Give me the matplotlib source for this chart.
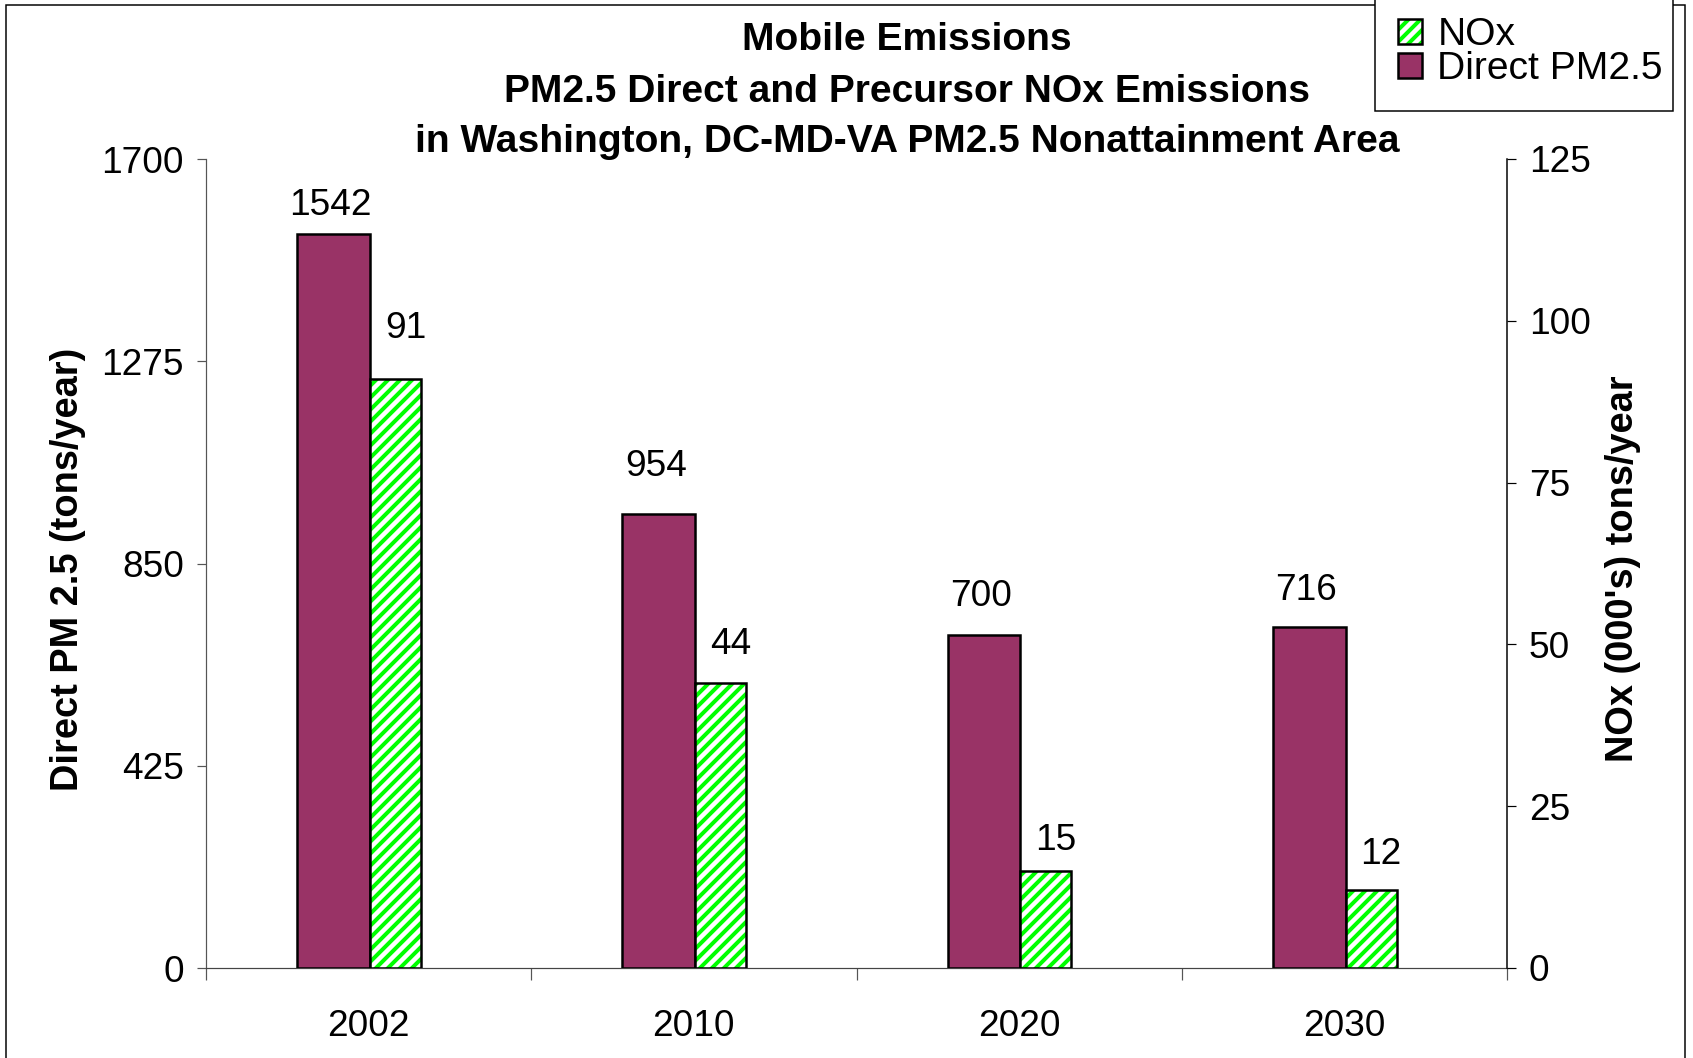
import numpy as np
import matplotlib
matplotlib.use('Agg')
import matplotlib.pyplot as plt
from matplotlib.patches import Rectangle
from matplotlib.legend_handler import HandlerTuple

# ---- data ----
years = ['2002', '2010', '2020', '2030']
pm25 = [1542, 954, 700, 716]          # Direct PM2.5, tons/year (left axis)
nox = [91, 44, 15, 12]                # NOx, 000's tons/year (right axis)
pm_ticks = [0, 425, 850, 1275, 1700]
nox_ticks = [0, 25, 50, 75, 100, 125]
title_lines = ['Mobile Emissions',
               'PM2.5 Direct and Precursor NOx Emissions',
               'in Washington, DC-MD-VA PM2.5 Nonattainment Area']

# ---- layout tweaks (label gaps above bars, in px) ----
pm_label_gap = [19, 38, 29, 27]
nox_label_gap = [41, 29, 21, 26]

PM_COLOR = '#993366'
GREEN = '#00FF00'
W, H = 1693, 1058
DPI = 72
NUM_FS = 37

plt.rcParams['font.family'] = ['Liberation Sans', 'DejaVu Sans']
plt.rcParams['hatch.linewidth'] = 4.0

fig = plt.figure(figsize=(W / DPI, H / DPI), dpi=DPI)
ax = fig.add_axes([206 / W, 1 - 968 / H, (1507 - 206) / W, (968 - 159) / H])
ax2 = ax.twinx()

x = np.arange(len(years))
pm_off, pm_w = -0.22, 0.224
nx_off, nx_w = 0.004, 0.157

pm_bars = ax.bar(x + pm_off, pm25, width=pm_w, align='edge', color=PM_COLOR,
                 edgecolor='black', linewidth=2.5, zorder=3)
nox_fill = ax2.bar(x + nx_off, nox, width=nx_w, align='edge', color='white',
                   edgecolor=GREEN, hatch='//', linewidth=0, zorder=3)
nox_edge = ax2.bar(x + nx_off, nox, width=nx_w, align='edge', fill=False,
                   edgecolor='black', linewidth=2.5, zorder=4)

for xi, v, g in zip(x, pm25, pm_label_gap):
    ax.annotate(str(v), xy=(xi + pm_off + pm_w / 2, v), xytext=(-3, g),
                textcoords='offset points', ha='center', va='baseline', fontsize=NUM_FS)
for xi, v, g in zip(x, nox, nox_label_gap):
    ax2.annotate(str(v), xy=(xi + nx_off + nx_w / 2, v), xytext=(10, g),
                 textcoords='offset points', ha='center', va='baseline', fontsize=NUM_FS)

ax.set_xlim(-0.5, len(years) - 0.5)
ax.set_ylim(0, 1700)
ax2.set_ylim(0, 125)

ax.set_yticks(pm_ticks)
ax.set_yticklabels([str(t) for t in pm_ticks])
ax2.set_yticks(nox_ticks)
ax2.set_yticklabels([str(t) for t in nox_ticks])

ax.set_xticks(x)
ax.set_xticklabels(years)
ax.set_xticks(np.arange(-0.5, len(years), 1.0), minor=True)
ax.tick_params(axis='x', which='major', length=0, pad=41, labelsize=NUM_FS)
ax.tick_params(axis='x', which='minor', length=12, width=1.2, direction='out', color='#555555')
ax.tick_params(axis='y', length=9, width=1.2, direction='out', pad=13, labelsize=NUM_FS,
               color='#555555', labelcolor='black')
ax2.tick_params(axis='y', length=9, width=1.2, direction='out', pad=13, labelsize=NUM_FS,
                color='black', labelcolor='black')

for s in ['top', 'right']:
    ax.spines[s].set_visible(False)
ax.spines['left'].set_color('#555555')
ax.spines['left'].set_linewidth(1.2)
ax.spines['bottom'].set_color('#444444')
ax.spines['bottom'].set_linewidth(1.2)
for s in ['top', 'left', 'bottom']:
    ax2.spines[s].set_visible(False)
ax2.spines['right'].set_color('black')
ax2.spines['right'].set_linewidth(1.5)

ax.set_ylabel('Direct PM 2.5 (tons/year)', fontsize=38, fontweight='bold', va='center')
ax.yaxis.set_label_coords(-0.106, 0.493)
ax2.set_ylabel("NOx (000's) tons/year", fontsize=38, fontweight='bold', va='center')
ax2.yaxis.set_label_coords(1.0895, 0.493)

for line, b in zip(title_lines, [50.5, 101.5, 152]):
    fig.text(907 / W, 1 - b / H, line, ha='center', va='baseline',
             fontsize=39, fontweight='bold')

leg = fig.legend([(nox_fill, nox_edge), pm_bars], ['NOx', 'Direct PM2.5'],
                 handler_map={tuple: HandlerTuple(ndivide=1)},
                 loc='upper left',
                 bbox_to_anchor=(1375 / W, 1 - 100 / H, 298 / W, 106 / H),
                 mode='expand', fontsize=39, handlelength=0.6, handleheight=0.6,
                 handletextpad=0.4, labelspacing=-0.05, borderpad=0.6,
                 borderaxespad=0, fancybox=False, framealpha=1, edgecolor='black')
leg.get_frame().set_linewidth(1.5)

fig.add_artist(Rectangle((6 / W, -0.05), (1685 - 6) / W, 1 - 5 / H + 0.05,
                         transform=fig.transFigure, fill=False, ec='black', lw=1.5))

fig.savefig('out.png', dpi=DPI)
